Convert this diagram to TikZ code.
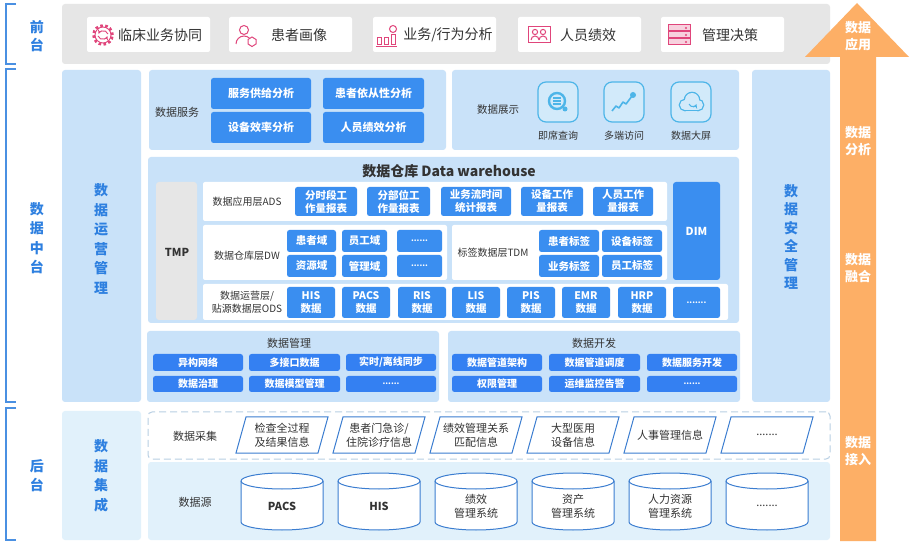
\documentclass[tikz,border=0pt]{standalone}
\usepackage{fontspec}
\setmainfont{Noto Sans CJK SC}
\definecolor{panelc}{HTML}{C9E2F9}
\definecolor{panelL}{HTML}{E1F1FB}
\definecolor{btnc}{HTML}{3A8EF0}
\definecolor{grayc}{HTML}{E6E6E6}
\definecolor{orgc}{HTML}{FDAF66}
\definecolor{ttlc}{HTML}{2E80E0}
\definecolor{txtc}{HTML}{333333}
\definecolor{pinkc}{HTML}{E0457B}
\definecolor{cyanc}{HTML}{4DB5E8}
\definecolor{cyanf}{HTML}{D2EAFA}
\definecolor{brkc}{HTML}{4A90E2}
\definecolor{plinec}{HTML}{3B7DD0}
\definecolor{dashc}{HTML}{B8CFE3}
\newcommand\fs[2]{\fontsize{#1}{#2}\selectfont}
\newcommand\bx[7]{\node[#6, minimum width={(#4)-(#2)}, minimum height={(#5)-(#3)}] (#1) at ({((#2)+(#4))/2},{((#3)+(#5))/2}) {#7};}
\tikzset{
 panelbox/.style={fill=panelc, rounded corners=3pt, inner sep=0pt, outer sep=0pt},
 lightbox/.style={fill=panelL, rounded corners=3pt, inner sep=0pt, outer sep=0pt},
 whitebox/.style={fill=white, rounded corners=2pt, inner sep=0pt, outer sep=0pt},
 graybox/.style={fill=grayc, rounded corners=3pt, inner sep=0pt, outer sep=0pt},
 bluebtn/.style={fill=btnc, rounded corners=2.5pt, inner sep=0pt, outer sep=0pt, text=white, align=center, font=\fs{10.5}{13}\bfseries},
 lbl/.style={text=txtc, font=\fs{11}{13}, align=center, inner sep=0pt},
 vtxt/.style={text=ttlc, font=\fs{14}{19.5}\bfseries, align=center, inner sep=0pt},
 otxt/.style={text=white, font=\fs{13}{16.5}\bfseries, align=center, inner sep=0pt},
 toptxt/.style={text=txtc, font=\fs{14}{16}, inner sep=0pt},
 icn/.style={draw=pinkc, line width=1pt},
 dicon/.style={draw=cyanc, fill=cyanf, line width=1.2pt, rounded corners=8pt, inner sep=0pt, outer sep=0pt},
 paral/.style={draw=plinec, line width=1pt, fill=white},
 cyl/.style={draw=plinec, line width=1pt, fill=white},
}
\begin{document}
\begin{tikzpicture}[x=1pt,y=-1pt]
\useasboundingbox (0,0) rectangle (911,545);
\fill[white] (0,0) rectangle (911,545);

% ---------- left brackets ----------
\coordinate (b1a) at (16,4); \coordinate (b1b) at (16,64);
\draw[brkc, line width=1.6pt] (b1a) -- (6,4) -- (6,64) -- (b1b);
\draw[brkc, line width=1.6pt] (16,69) -- (6,69) -- (6,402) -- (16,402);
\draw[brkc, line width=1.6pt] (16,408) -- (6,408) -- (6,540) -- (16,540);
\node[vtxt, font=\fs{14}{18}\bfseries] (lqt) at (37,36) {前\\台};
\node[vtxt] (lzt) at (37,238) {数\\据\\中\\台};
\node[vtxt, font=\fs{14}{19}\bfseries] (lht) at (37,476) {后\\台};

% ---------- top bar ----------
\bx{topbar}{62}{4}{830}{64}{graybox}{}
\foreach \x/\n in {87/f1,229/f2,373/f3,518/f4,661/f5}{
  \bx{\n}{\x}{17}{\x+123}{52}{whitebox}{}
}
\node[toptxt] (f1t) at (160,35) {临床业务协同};
\node[toptxt] (f2t) at (299,35) {患者画像};
\node[toptxt] (f3t) at (448,35) {业务/行为分析};
\node[toptxt] (f4t) at (588,35) {人员绩效};
\node[toptxt] (f5t) at (730,35) {管理决策};
% icon 1 gear
\begin{scope}[shift={(103,35)}]
  \draw[pinkc, line width=2.6pt, dash pattern=on 2.6pt off 2.4pt] (0,0) circle[radius=9.5pt];
  \draw[pinkc, fill=white, line width=0.9pt] (0,0) circle[radius=8pt];
  \draw[pinkc, line width=0.9pt, -stealth] (-5,1) arc[start angle=200, end angle=340, radius=5pt];
  \draw[pinkc, line width=0.9pt, -stealth] (5,-1) arc[start angle=20, end angle=160, radius=5pt];
\end{scope}
% icon 2 person
\begin{scope}[shift={(247,35)}]
  \draw[icn] (-3,-5) circle[radius=4.5pt];
  \draw[icn] (-11,9) arc[start angle=180, end angle=0, radius=8pt];
  \draw[icn, fill=white] (5,2) -- (9,4.5) -- (9,9) -- (5,11.5) -- (1,9) -- (1,4.5) -- cycle;
\end{scope}
% icon 3 bars
\begin{scope}[shift={(387,35)}]
  \draw[icn] (-10,3) rectangle (-6,10);
  \draw[icn] (-3,3) rectangle (1,10);
  \draw[icn] (4,0) rectangle (8,10);
  \draw[icn] (6,-6) circle[radius=3.5pt];
  \draw[icn] (-11,12) -- (10,12);
\end{scope}
% icon 4 frame with persons
\begin{scope}[shift={(539,35)}]
  \draw[icn] (-11,-8) rectangle (11,8);
  \draw[icn] (-4,-3) circle[radius=2.6pt];
  \draw[icn] (4,-3) circle[radius=2.6pt];
  \draw[icn] (-8,5) arc[start angle=180, end angle=0, radius=4pt];
  \draw[icn] (0,5) arc[start angle=180, end angle=0, radius=4pt];
\end{scope}
% icon 5 layers
\begin{scope}[shift={(679,35)}]
  \draw[icn, fill=pinkc!25] (-11,-10) rectangle (11,-4);
  \draw[icn, fill=pinkc!25] (-11,-3) rectangle (11,3);
  \draw[icn, fill=pinkc!25] (-11,4) rectangle (11,10);
  \fill[pinkc] (7,-7) circle[radius=1.2pt] (7,0) circle[radius=1.2pt] (7,7) circle[radius=1.2pt];
\end{scope}

% ---------- orange arrow ----------
\fill[orgc] (840,541) -- (840,57) -- (805,57) -- (857,3) -- (909,57) -- (876,57) -- (876,541) -- cycle;
\node[otxt] (oa) at (858,36) {数据\\应用};
\node[otxt] (ob) at (858,141) {数据\\分析};
\node[otxt] (oc) at (858,268) {数据\\融合};
\node[otxt] (od) at (858,451) {数据\\接入};

% ---------- side columns ----------
\bx{ops}{62}{70}{141}{402}{panelbox}{}
\node[vtxt] (opst) at (101,239) {数\\据\\运\\营\\管\\理};
\bx{sec}{752}{70}{830}{402}{panelbox}{}
\node[vtxt, font=\fs{14}{18.5}\bfseries] (sect) at (791,237) {数\\据\\安\\全\\管\\理};
\bx{integ}{62}{411}{141}{540}{lightbox}{}
\node[vtxt] (integt) at (101,476) {数\\据\\集\\成};

% ---------- data service ----------
\bx{dsv}{149}{70}{446}{150}{panelbox}{}
\node[lbl] (dsvt) at (177,112) {数据服务};
\bx{s1}{211}{78}{311}{109}{bluebtn, font=\fs{11}{13}\bfseries}{服务供给分析}
\bx{s2}{323}{78}{424}{109}{bluebtn, font=\fs{11}{13}\bfseries}{患者依从性分析}
\bx{s3}{211}{112}{311}{143}{bluebtn, font=\fs{11}{13}\bfseries}{设备效率分析}
\bx{s4}{323}{112}{424}{143}{bluebtn, font=\fs{11}{13}\bfseries}{人员绩效分析}

% ---------- data display ----------
\bx{dsp}{452}{70}{739}{150}{panelbox}{}
\node[lbl, font=\fs{10.5}{13}] (dspt) at (498,110) {数据展示};
\bx{d1}{538}{82}{578}{122}{dicon}{}
\bx{d2}{604}{82}{644}{122}{dicon}{}
\bx{d3}{671}{82}{711}{122}{dicon}{}
\node[lbl, font=\fs{10}{12}] (d1t) at (558,136) {即席查询};
\node[lbl, font=\fs{10}{12}] (d2t) at (624,136) {多端访问};
\node[lbl, font=\fs{10}{12}] (d3t) at (691,136) {数据大屏};
\begin{scope}[shift={(558,102)}]
  \draw[cyanc, line width=2.4pt] (-1,-1) circle[radius=8pt];
  \draw[cyanc, line width=1.3pt] (-5,-4) -- (3,-4) (-5,-1) -- (3,-1) (-5,2) -- (3,2);
  \fill[cyanc] (7,7) circle[radius=2.5pt];
\end{scope}
\begin{scope}[shift={(624,102)}]
  \draw[cyanc, line width=1.6pt, line join=round] (-12,9) -- (-8,4) -- (-5,6) -- (-1,0) -- (2,2) -- (8,-6);
  \fill[cyanc] (9,-7) circle[radius=3pt];
\end{scope}
\begin{scope}[shift={(691,102)}]
  \draw[cyanc, line width=2.6pt] (-6,3) circle[radius=5pt] (1,-2) circle[radius=7pt] (7,3) circle[radius=5pt];
  \draw[cyanc, line width=2.6pt] (-6,8) -- (7,8);
  \fill[cyanf] (-6,3) circle[radius=5pt] (1,-2) circle[radius=7pt] (7,3) circle[radius=5pt];
  \fill[cyanf] (-6,3) rectangle (7,8);
  \draw[cyanc, line width=1pt, -stealth] (-2,2) arc[start angle=200, end angle=340, radius=4pt];
\end{scope}

% ---------- data warehouse ----------
\bx{dw}{148}{157}{739}{323}{panelbox}{}
\node[text=txtc, font=\fs{14}{16}\bfseries, inner sep=0pt] (dwt) at (449,171) {数据仓库 Data warehouse};
\bx{tmp}{156}{182}{197}{320}{graybox}{}
\node[text=txtc, font=\fs{11}{13}\bfseries, inner sep=0pt] (tmpt) at (177,252) {TMP};

% ADS
\bx{ads}{203}{182}{667}{221}{whitebox}{}
\node[lbl, font=\fs{10}{12}] (adst) at (247,202) {数据应用层ADS};
\foreach \xa/\xb/\t [count=\i] in {295/357/{分时段工\\作量报表},367/430/{分部位工\\作量报表},441/511/{业务流时间\\统计报表},521/583/{设备工作\\量报表},593/653/{人员工作\\量报表}}{
  \bx{ad\i}{\xa}{187}{\xb}{216}{bluebtn}{\t}
}
\bx{dim}{673}{182}{720}{280}{bluebtn, rounded corners=3pt, font=\fs{11}{13}\bfseries}{DIM}

% DW
\bx{dwl}{203}{225}{447}{280}{whitebox}{}
\node[lbl, font=\fs{10}{12}] (dwlt) at (247,256) {数据仓库层DW};
\bx{w1}{287}{230}{336}{252}{bluebtn}{患者域}
\bx{w2}{342}{230}{387}{252}{bluebtn}{员工域}
\bx{w3}{397}{230}{442}{252}{bluebtn, font=\fs{8}{10}\bfseries}{......}
\bx{w4}{287}{255}{336}{277}{bluebtn}{资源域}
\bx{w5}{342}{255}{387}{277}{bluebtn}{管理域}
\bx{w6}{397}{255}{442}{277}{bluebtn, font=\fs{8}{10}\bfseries}{......}

% TDM
\bx{tdm}{452}{225}{667}{280}{whitebox}{}
\node[lbl, font=\fs{10}{12}] (tdmt) at (493,253) {标签数据层TDM};
\bx{t1}{539}{230}{599}{252}{bluebtn}{患者标签}
\bx{t2}{602}{230}{662}{252}{bluebtn}{设备标签}
\bx{t3}{539}{255}{599}{277}{bluebtn}{业务标签}
\bx{t4}{602}{255}{662}{277}{bluebtn}{员工标签}

% ODS
\bx{ods}{203}{284}{728}{320}{whitebox}{}
\node[lbl, font=\fs{10}{13}] (odst) at (247,302) {数据运营层/\\贴源数据层ODS};
\foreach \x/\t [count=\i] in {287/{HIS\\数据},342/{PACS\\数据},398/{RIS\\数据},452/{LIS\\数据},507/{PIS\\数据},562/{EMR\\数据},618/{HRP\\数据}}{
  \bx{o\i}{\x}{287}{\x+48}{318}{bluebtn, font=\fs{10.5}{13}\bfseries}{\t}
}
\bx{o8}{673}{287}{720}{318}{bluebtn, font=\fs{8}{10}\bfseries}{.......}

% ---------- data management / development ----------
\bx{dm}{147}{331}{439}{402}{panelbox}{}
\node[lbl] (dmt) at (289,343) {数据管理};
\bx{dd}{448}{331}{740}{402}{panelbox}{}
\node[lbl] (ddt) at (594,343) {数据开发};
\tikzset{mbtn/.style={bluebtn, fill=btnc!90!blue, font=\fs{10}{12}\bfseries}}
\bx{m1}{153}{354}{243}{371}{mbtn}{异构网络}
\bx{m2}{249}{354}{340}{371}{mbtn}{多接口数据}
\bx{m3}{346}{354}{436}{371}{mbtn}{实时/离线同步}
\bx{m4}{153}{376}{243}{392}{mbtn}{数据治理}
\bx{m5}{249}{376}{340}{392}{mbtn}{数据模型管理}
\bx{m6}{346}{376}{436}{392}{mbtn, font=\fs{8}{10}\bfseries}{......}
\bx{v1}{452}{354}{542}{371}{mbtn}{数据管道架构}
\bx{v2}{549}{354}{640}{371}{mbtn}{数据管道调度}
\bx{v3}{647}{354}{737}{371}{mbtn}{数据服务开发}
\bx{v4}{452}{376}{542}{392}{mbtn}{权限管理}
\bx{v5}{549}{376}{640}{392}{mbtn}{运维监控告警}
\bx{v6}{647}{376}{737}{392}{mbtn, font=\fs{8}{10}\bfseries}{......}

% ---------- data acquisition ----------
\bx{acq}{148}{412}{830}{459}{draw=dashc, dash pattern=on 7pt off 4pt, line width=1pt, rounded corners=4pt, fill=white, inner sep=0pt, outer sep=0pt}{}
\node[lbl] (acqt) at (195,436) {数据采集};
\foreach \c/\t [count=\i] in {282/{检查全过程\\及结果信息},379/{患者门急诊/\\住院诊疗信息},476/{绩效管理关系\\匹配信息},573/{大型医用\\设备信息},670/{人事管理信息},767/{.......}}{
  \draw[paral] (\c-46,453) -- (\c-36,417) -- (\c+46,417) -- (\c+36,453) -- cycle;
  \node[lbl, font=\fs{11}{14}] (p\i) at (\c,435) {\t};
}

% ---------- data sources ----------
\bx{src}{148}{462}{830}{540}{lightbox}{}
\node[lbl] (srct) at (195,502) {数据源};
\foreach \c/\t [count=\i] in {282/{\bfseries PACS},379/{\bfseries HIS},476/{绩效\\管理系统},573/{资产\\管理系统},670/{人力资源\\管理系统},767/{.......}}{
  \draw[cyl] (\c-41,481) -- (\c-41,522) arc[start angle=180,end angle=360,x radius=41pt,y radius=8pt] -- (\c+41,481) arc[start angle=0,end angle=180,x radius=41pt,y radius=8pt] -- cycle;
  \draw[plinec, line width=1pt] (\c-41,481) arc[start angle=180,end angle=360,x radius=41pt,y radius=8pt];
  \node[lbl, font=\fs{11}{14}] (c\i) at (\c,506) {\t};
}
\end{tikzpicture}
\end{document}
